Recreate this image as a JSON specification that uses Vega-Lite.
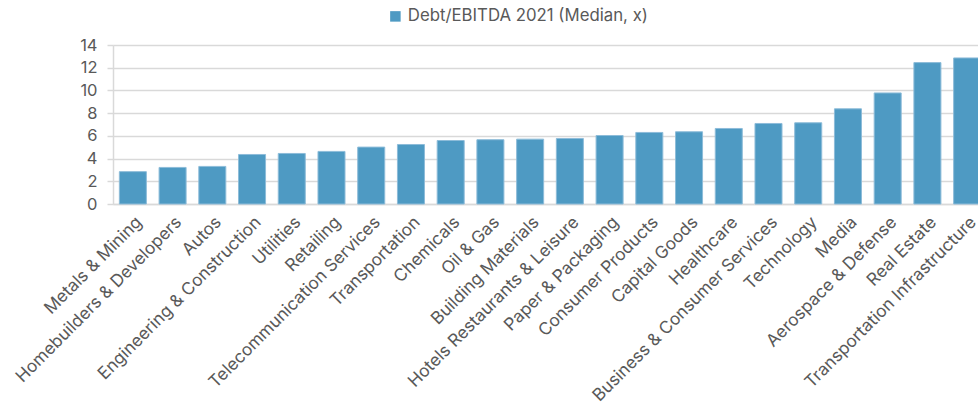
{
  "$schema": "https://vega.github.io/schema/vega-lite/v6.json",
  "autosize": {"type": "none"},
  "padding": {"left": 113, "top": 45, "right": 0, "bottom": 203},
  "width": 874,
  "height": 159,
  "background": "white",
  "config": {
    "view": {"stroke": null},
    "font": "Inter",
    "axis": {"labelFont": "Inter", "labelColor": "#595959"},
    "legend": {"labelFont": "Inter"}
  },
  "data": {
    "values": [
      {"sector": "Metals & Mining", "value": 2.85},
      {"sector": "Homebuilders & Developers", "value": 3.22},
      {"sector": "Autos", "value": 3.31},
      {"sector": "Engineering & Construction", "value": 4.36},
      {"sector": "Utilities", "value": 4.45},
      {"sector": "Retailing", "value": 4.63},
      {"sector": "Telecommunication Services", "value": 5.01},
      {"sector": "Transportation", "value": 5.24},
      {"sector": "Chemicals", "value": 5.59},
      {"sector": "Oil & Gas", "value": 5.66},
      {"sector": "Building Materials", "value": 5.71},
      {"sector": "Hotels Restaurants & Leisure", "value": 5.77},
      {"sector": "Paper & Packaging", "value": 6.03},
      {"sector": "Consumer Products", "value": 6.3},
      {"sector": "Capital Goods", "value": 6.36},
      {"sector": "Healthcare", "value": 6.65},
      {"sector": "Business & Consumer Services", "value": 7.09},
      {"sector": "Technology", "value": 7.15},
      {"sector": "Media", "value": 8.38},
      {"sector": "Aerospace & Defense", "value": 9.78},
      {"sector": "Real Estate", "value": 12.45},
      {"sector": "Transportation Infrastructure", "value": 12.86}
    ]
  },
  "mark": {"type": "bar", "stroke": "#8dbcd9", "strokeWidth": 1},
  "encoding": {
    "x": {
      "field": "sector",
      "type": "nominal",
      "sort": null,
      "scale": {"paddingInner": 0.32, "paddingOuter": 0.16},
      "axis": {
        "title": null,
        "labelAngle": -45,
        "labelFontSize": 17.2,
        "labelPadding": 9,
        "labelDx": -2,
        "ticks": false,
        "domainColor": "#d9d9d9",
        "domainWidth": 1.5,
        "labelOverlap": false,
        "labelLimit": 400
      }
    },
    "y": {
      "field": "value",
      "type": "quantitative",
      "scale": {"domain": [0, 14], "nice": false},
      "axis": {
        "title": null,
        "values": [0, 2, 4, 6, 8, 10, 12, 14],
        "labelFontSize": 16.5,
        "labelPadding": 10,
        "gridColor": "#d9d9d9",
        "gridWidth": 1.5,
        "domainColor": "#d9d9d9",
        "domainWidth": 1.5,
        "tickColor": "#d9d9d9",
        "tickSize": 6,
        "tickWidth": 1.5
      }
    },
    "color": {
      "datum": "Debt/EBITDA 2021 (Median, x)",
      "scale": {"range": ["#4e9ac3"]},
      "legend": {
        "title": null,
        "orient": "none",
        "legendX": 274,
        "legendY": -37,
        "symbolType": "square",
        "symbolSize": 110,
        "symbolStrokeWidth": 0,
        "labelFontSize": 16.8,
        "labelLimit": 400,
        "labelColor": "#595959"
      }
    }
  }
}
